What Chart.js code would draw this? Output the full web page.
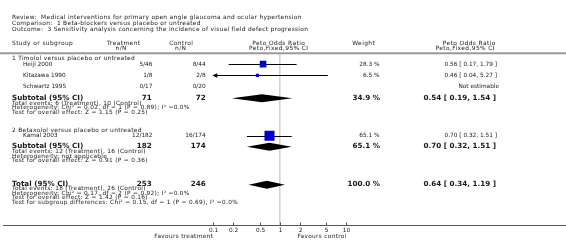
<!DOCTYPE html>
<html><head><meta charset="utf-8">
<script src="https://cdn.jsdelivr.net/npm/chart.js@4"></script>
<style>html,body{margin:0;padding:0;background:#fff;}#wrap{width:566px;height:248px;position:relative;}canvas{display:block;}</style>
</head><body><div id="wrap"><canvas id="c" width="566" height="248"></canvas></div>
<script>
// ---------------- DATA ----------------
const titleLines = [
  "Review:  Medical interventions for primary open angle glaucoma and ocular hypertension",
  "Comparison:  1 Beta-blockers versus placebo or untreated",
  "Outcome:  3 Sensitivity analysis concerning the incidence of visual field defect progression"
];
const groupNames = ["1 Timolol versus placebo or untreated", "2 Betaxolol versus placebo or untreated"];
const studyNames = ["Heijl 2000", "Kitazawa 1990", "Schwartz 1995", "Kamal 2003"];
const studyGroup = [0, 0, 0, 1];
const treatEvents = [5, 1, 0, 12];
const treatTotal = [46, 8, 17, 182];
const ctrlEvents = [8, 2, 0, 16];
const ctrlTotal = [44, 8, 20, 174];
const studyOR = [0.56, 0.46, null, 0.70];
const studyLow = [0.17, 0.04, null, 0.32];
const studyHigh = [1.79, 5.27, null, 1.51];
const studyWeight = [28.3, 6.5, null, 65.1];

const groupTreatTotal = [71, 182];
const groupCtrlTotal = [72, 174];
const groupTreatEvents = [6, 12];
const groupCtrlEvents = [10, 16];
const groupOR = [0.54, 0.70];
const groupLow = [0.19, 0.32];
const groupHigh = [1.54, 1.51];
const groupWeight = [34.9, 65.1];
const groupHetero = ["Chi\u00B2 = 0.02, df = 1 (P = 0.89); I\u00B2 =0.0%", "not applicable"];
const groupEffect = ["Z = 1.15 (P = 0.25)", "Z = 0.91 (P = 0.36)"];

const totalTreatTotal = 253, totalCtrlTotal = 246;
const totalTreatEvents = 18, totalCtrlEvents = 26;
const totalOR = 0.64, totalLow = 0.34, totalHigh = 1.19, totalWeight = 100.0;
const totalHetero = "Chi\u00B2 = 0.17, df = 2 (P = 0.92); I\u00B2 =0.0%";
const totalEffect = "Z = 1.42 (P = 0.16)";
const subgroupDiff = "Chi\u00B2 = 0.15, df = 1 (P = 0.69), I\u00B2 =0.0%";

const axisTicks = [0.1, 0.2, 0.5, 1, 2, 5, 10];
const tickLabels = ["0.1", "0.2", "0.5", "1", "2", "5", "10"];
const favoursLeft = "Favours treatment";
const favoursRight = "Favours control";

// ---------------- LAYOUT ----------------
const W = 566, H = 248;
const plotLeft = 213.3, plotRight = 346.3;
const rowY = {
  title: [11, 17.5, 24],
  head1: 38.5, head2: 43.5, rule: 49,
  groupHead: [54.5, 131],
  study: [60.5, 72.5, 84.5, 136.5],
  subtotal: [96.7, 148],
  subEvents: [102.2, 153.6], subHetero: [106.8, 158.2], subEffect: [111.3, 163],
  total: 188.3, totEvents: 192.8, totHetero: 197.5, totEffect: 202.1, totSub: 206.8,
  axis: 231, tickLab: 236.5, favours: 243
};
const col = { left: 12, study: 23, treat: 152.5, ctrl: 205.7, weight: 379.5, ci: 497 };
const FONT = "'DejaVu Sans', sans-serif";
const TXT = '#1a1a1a';
// [size, letterSpacing]
const ST = { title: [5.9, 0.3], head: [5.9, 0.4], text: [5.8, 0.32], data: [5.8, 0], bold: [7.2, 0] };

function fmtW(w){ return w.toFixed(1) + " %"; }
function fmtCI(o,l,h){ return o.toFixed(2) + " [ " + l.toFixed(2) + ", " + h.toFixed(2) + " ]"; }

// squares
const sqPoints = [], sqRadius = [];
studyNames.forEach((n,i)=>{
  if (studyOR[i] != null) {
    sqPoints.push({x: studyOR[i], y: rowY.study[i]});
    const side = 1.24 * Math.sqrt(studyWeight[i]);
    sqRadius.push(side / Math.SQRT2);
  }
});

const forestPlugin = {
  id: 'forest',
  beforeDatasetsDraw(chart) {
    const ctx = chart.ctx, xs = chart.scales.x, ys = chart.scales.y;
    const xmin = xs.min, xmax = xs.max;
    ctx.save();
    ctx.fillStyle = '#999';
    ctx.fillRect(0, ys.getPixelForValue(rowY.rule) - 1, W, 2);
    const x1 = xs.getPixelForValue(1);
    ctx.fillStyle = '#d0d0d0';
    ctx.fillRect(x1 - 0.75, ys.getPixelForValue(rowY.rule) + 1, 1.5, ys.getPixelForValue(rowY.axis) - ys.getPixelForValue(rowY.rule) - 1);
    ctx.strokeStyle = '#000'; ctx.fillStyle = '#000'; ctx.lineWidth = 1;
    studyNames.forEach((n,i)=>{
      if (studyOR[i] == null) return;
      const y = Math.round(ys.getPixelForValue(rowY.study[i])) + 0.5;
      const lo = Math.max(studyLow[i], xmin), hi = Math.min(studyHigh[i], xmax);
      const a = xs.getPixelForValue(lo), b = xs.getPixelForValue(hi);
      ctx.beginPath(); ctx.moveTo(a, y); ctx.lineTo(b, y); ctx.stroke();
      if (studyLow[i] < xmin) {
        ctx.beginPath(); ctx.moveTo(a - 1, y); ctx.lineTo(a + 4, y - 2.2); ctx.lineTo(a + 4, y + 2.2); ctx.closePath(); ctx.fill();
      }
      if (studyHigh[i] > xmax) {
        ctx.beginPath(); ctx.moveTo(b + 1, y); ctx.lineTo(b - 4, y - 2.2); ctx.lineTo(b - 4, y + 2.2); ctx.closePath(); ctx.fill();
      }
    });
    const diamond = (o,l,h,yv) => {
      const y = ys.getPixelForValue(yv);
      ctx.beginPath();
      ctx.moveTo(xs.getPixelForValue(l), y);
      ctx.lineTo(xs.getPixelForValue(o), y - 4);
      ctx.lineTo(xs.getPixelForValue(h), y);
      ctx.lineTo(xs.getPixelForValue(o), y + 4);
      ctx.closePath(); ctx.fill();
    };
    groupOR.forEach((o,g)=>diamond(o, groupLow[g], groupHigh[g], rowY.subtotal[g]));
    diamond(totalOR, totalLow, totalHigh, rowY.total);
    ctx.restore();
  },
  afterDraw(chart) {
    const ctx = chart.ctx, xs = chart.scales.x, ys = chart.scales.y;
    ctx.save();
    ctx.textBaseline = 'middle';
    const t = (s, x, yv, align, style) => {
      const st = ST[style || 'text'];
      ctx.font = (style === 'bold' ? 'bold ' : '') + st[0] + 'px ' + FONT;
      if ('letterSpacing' in ctx) ctx.letterSpacing = st[1] + 'px';
      ctx.textAlign = align || 'left';
      ctx.fillStyle = TXT;
      let xx = x;
      if (align === 'right') xx += st[1];
      else if (align === 'center') xx += st[1] / 2;
      ctx.fillText(s, xx, ys.getPixelForValue(yv));
    };
    titleLines.forEach((s,i)=>t(s, col.left, rowY.title[i], 'left', 'title'));
    t("Study or subgroup", col.left, rowY.head1, 'left', 'head');
    t("Treatment", 123.5, rowY.head1, 'center', 'head');
    t("n/N", 121, rowY.head2, 'center', 'head');
    t("Control", 181, rowY.head1, 'center', 'head');
    t("n/N", 180.5, rowY.head2, 'center', 'head');
    t("Peto Odds Ratio", 278.5, rowY.head1, 'center', 'head');
    t("Peto,Fixed,95% CI", 278.5, rowY.head2, 'center', 'head');
    t("Weight", 363.5, rowY.head1, 'center', 'head');
    t("Peto Odds Ratio", 469, rowY.head1, 'center', 'head');
    t("Peto,Fixed,95% CI", 465, rowY.head2, 'center', 'head');
    groupNames.forEach((gname,g)=>{
      t(gname, col.left, rowY.groupHead[g], 'left', 'title');
      studyNames.forEach((n,i)=>{
        if (studyGroup[i] !== g) return;
        const y = rowY.study[i];
        t(n, col.study, y, 'left', 'data');
        t(treatEvents[i] + "/" + treatTotal[i], col.treat, y, 'right', 'data');
        t(ctrlEvents[i] + "/" + ctrlTotal[i], col.ctrl, y, 'right', 'data');
        if (studyOR[i] != null) {
          t(fmtW(studyWeight[i]), col.weight, y, 'right', 'data');
          t(fmtCI(studyOR[i], studyLow[i], studyHigh[i]), col.ci, y, 'right', 'data');
        } else {
          t("Not estimable", col.ci + 2, y, 'right', 'data');
        }
      });
      const ys2 = rowY.subtotal[g];
      t("Subtotal (95% CI)", col.left, ys2, 'left', 'bold');
      t(String(groupTreatTotal[g]), col.treat - 0.7, ys2, 'right', 'bold');
      t(String(groupCtrlTotal[g]), col.ctrl, ys2, 'right', 'bold');
      t(fmtW(groupWeight[g]), col.weight + 0.5, ys2, 'right', 'bold');
      t(fmtCI(groupOR[g], groupLow[g], groupHigh[g]), col.ci - 1, ys2, 'right', 'bold');
      t("Total events: " + groupTreatEvents[g] + " (Treatment), " + groupCtrlEvents[g] + " (Control)", col.left, rowY.subEvents[g], 'left');
      t("Heterogeneity: " + groupHetero[g], col.left, rowY.subHetero[g], 'left');
      t("Test for overall effect: " + groupEffect[g], col.left, rowY.subEffect[g], 'left');
    });
    t("Total (95% CI)", col.left, rowY.total, 'left', 'bold');
    t(String(totalTreatTotal), col.treat - 0.7, rowY.total, 'right', 'bold');
    t(String(totalCtrlTotal), col.ctrl, rowY.total, 'right', 'bold');
    t(fmtW(totalWeight), col.weight + 0.5, rowY.total, 'right', 'bold');
    t(fmtCI(totalOR, totalLow, totalHigh), col.ci - 1, rowY.total, 'right', 'bold');
    t("Total events: " + totalTreatEvents + " (Treatment), " + totalCtrlEvents + " (Control)", col.left, rowY.totEvents, 'left');
    t("Heterogeneity: " + totalHetero, col.left, rowY.totHetero, 'left');
    t("Test for overall effect: " + totalEffect, col.left, rowY.totEffect, 'left');
    t("Test for subgroup differences: " + subgroupDiff, col.left, rowY.totSub, 'left');
    const ay = Math.round(ys.getPixelForValue(rowY.axis)) + 0.5;
    ctx.strokeStyle = '#555'; ctx.lineWidth = 1;
    ctx.beginPath(); ctx.moveTo(3, ay); ctx.lineTo(W, ay); ctx.stroke();
    axisTicks.forEach((v,i)=>{
      const x = Math.round(xs.getPixelForValue(v)) + 0.5;
      ctx.beginPath(); ctx.moveTo(x, ay - 3); ctx.lineTo(x, ay); ctx.stroke();
      t(tickLabels[i], x, rowY.tickLab, 'center', 'data');
    });
    t(favoursLeft, xs.getPixelForValue(0.1) - 0.5, rowY.favours, 'right', 'text');
    t(favoursRight, xs.getPixelForValue(10), rowY.favours, 'right', 'text');
    ctx.restore();
  }
};

new Chart(document.getElementById('c'), {
  type: 'scatter',
  data: { datasets: [{
    data: sqPoints,
    pointStyle: 'rect',
    pointRadius: sqRadius,
    pointHoverRadius: sqRadius,
    backgroundColor: '#0000cc',
    borderColor: '#0000cc',
    borderWidth: 0
  }]},
  options: {
    responsive: false, animation: false, devicePixelRatio: 1,
    layout: { padding: { left: plotLeft, right: W - plotRight, top: 0, bottom: 0 } },
    plugins: { legend: { display: false }, tooltip: { enabled: false } },
    events: [],
    scales: {
      x: { type: 'logarithmic', min: 0.1, max: 10, bounds: 'data', display: false },
      y: { type: 'linear', min: 0, max: H, reverse: true, display: false }
    }
  },
  plugins: [forestPlugin]
});
</script></body></html>
